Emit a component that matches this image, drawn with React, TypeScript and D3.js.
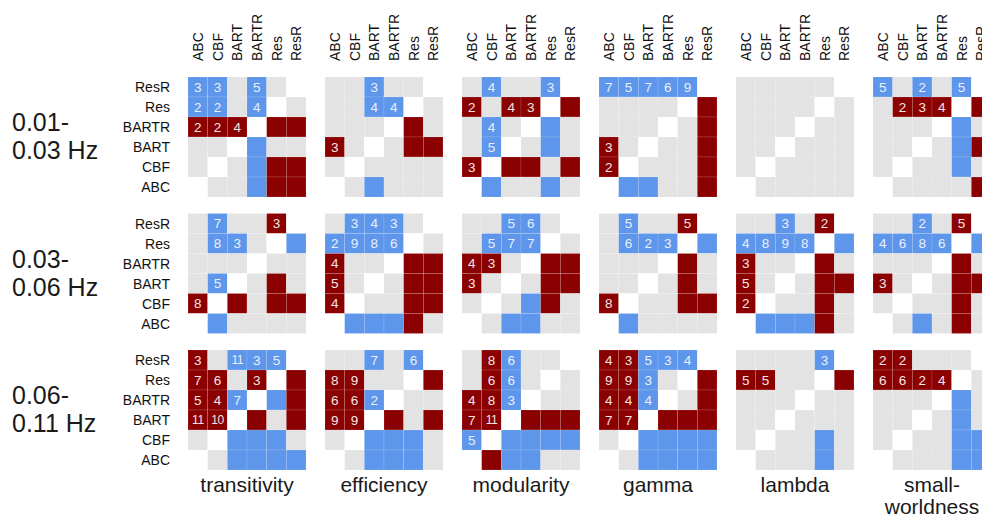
import React from "react";
import * as d3 from "d3";

// Regions compared in each matrix (columns left→right, rows bottom→top)
const regions = ["ABC", "CBF", "BART", "BARTR", "Res", "ResR"];
const rowOrder = [...regions].reverse();

const metrics = ["transitivity", "efficiency", "modularity", "gamma", "lambda", "small-worldness"];
const metricLines = [["transitivity"], ["efficiency"], ["modularity"], ["gamma"], ["lambda"], ["small-", "worldness"]];

const bands = ["0.01-0.03 Hz", "0.03-0.06 Hz", "0.06-0.11 Hz"];
const bandLines = [["0.01-", "0.03 Hz"], ["0.03-", "0.06 Hz"], ["0.06-", "0.11 Hz"]];

// Cell codes, rows listed top (ResR) to bottom (ABC):
// "." no difference, "-" same region, "b"/"r" decrease/increase, digits = count
const band1 = [
  ["b3 b3 . b5 . -", "b2 b2 . b4 - .", "r2 r2 r4 - r r", ". . - b . .", ". - . b r r", "- . . b r r"],
  [". . b3 . . -", ". . b4 b4 - .", ". . . - r .", "r3 . - . r r", ". - . . . .", "- . b . . ."],
  [". b4 . . b3 -", "r2 . r4 r3 - r", ". b4 . - b .", ". b5 - . b .", "r3 - r r . r", "- b . . b ."],
  ["b7 b5 b7 b6 b9 -", ". . . . - r", ". . . - . r", "r3 . - . . r", "r2 - . . . r", "- b b . . r"],
  [". . . . . -", ". . . . - .", ". . . - . .", ". . - . . .", ". - . . . .", "- . . . . ."],
  ["b5 . b2 . b5 -", ". r2 r3 r4 - r", ". . . - b .", ". . - . b r", ". - . . b .", "- . . . . r"],
];

const band2 = [
  [". b7 . . r3 -", ". b8 b3 . - b", ". . . - . .", ". b5 - . r .", "r8 - r . r r", "- b . . . ."],
  [". b3 b4 b3 . -", "b2 b9 b8 b6 - .", "r4 . . - r r", "r5 . - . r r", "r4 - . . r r", "- b b b r ."],
  [". . b5 b6 . -", ". b5 b7 b7 - .", "r4 r3 . - r r", "r3 . - . r r", ". - . b r .", "- . b b . ."],
  [". b5 . . r5 -", ". b6 b2 b3 - b", ". . . - r .", ". . - . r .", "r8 - . . r r", "- b . . . ."],
  [". . b3 . r2 -", "b4 b8 b9 b8 - b", "r3 . . - r .", "r5 . - . r r", "r2 - . . r .", "- b b b r ."],
  [". . b2 . r5 -", "b4 b6 b8 b6 - b", ". . . - r .", "r3 . - . r r", ". - . . r .", "- . b . r ."],
];

const band3 = [
  ["r3 . b11 b3 b5 -", "r7 r6 . r3 - r", "r5 r4 b7 - b r", "r11 r10 - r . r", ". - b b b .", "- . b b b b"],
  [". . b7 . b6 -", "r8 r9 . . - r", "r6 r6 b2 - . .", "r9 r9 - r . r", ". - b b b .", "- . b b b ."],
  [". r8 b6 . . -", ". r6 b6 . - .", "r4 r8 b3 - . .", "r7 r11 - r r r", "b5 - b b b b", "- r b b . ."],
  ["r4 r3 b5 b3 b4 -", "r9 r9 b3 . - r", "r4 r4 b4 - . r", "r7 r7 - r r r", ". - b b b b", "- . b b b b"],
  [". . . . b3 -", "r5 r5 . . - r", ". . . - . .", ". . - . . .", ". - . . b .", "- . . . b ."],
  ["r2 r2 . . . -", "r6 r6 r2 r4 - .", ". . . - b .", ". . - . b .", ". - . . b b", "- . . . b b"],
];

const bandData = [band1, band2, band3];

const fills: Record<string, string> = {
  ".": "#e3e3e3",
  "-": "#ffffff",
  b: "#5d96ea",
  r: "#8b0000",
};

const font = "'Liberation Sans', Arial, Helvetica, sans-serif";

type Cell = { band: number; metric: number; row: string; col: string; kind: string; n: string };

function parse(): Cell[] {
  const cells: Cell[] = [];
  bandData.forEach((band, bi) =>
    band.forEach((rows, mi) =>
      rows.forEach((line, ri) =>
        line.split(" ").forEach((tok, ci) => {
          cells.push({
            band: bi,
            metric: mi,
            row: rowOrder[ri],
            col: regions[ci],
            kind: tok[0],
            n: tok.slice(1),
          });
        })
      )
    )
  );
  return cells;
}

export default function App() {
  const W = 982;
  const H = 519;

  const px = d3
    .scaleBand<number>()
    .domain(d3.range(metrics.length))
    .range([188, 991])
    .paddingInner(19 / 137)
    .paddingOuter(0);
  const py = d3
    .scaleBand<number>()
    .domain(d3.range(bands.length))
    .range([77, 470])
    .paddingInner(16.5 / 136.5)
    .paddingOuter(0);

  const cx = d3.scaleBand<string>().domain(regions).range([0, px.bandwidth()]);
  const cy = d3.scaleBand<string>().domain(rowOrder).range([0, py.bandwidth()]);

  const cells = parse();

  return (
    <svg
      width={W}
      height={H}
      viewBox={`0 0 ${W} ${H}`}
      style={{ position: "absolute", left: 0, top: 0, display: "block", background: "#fff" }}
      fontFamily={font}
    >
      {/* column headers above the first band */}
      {metrics.map((m, mi) =>
        regions.map((r) => {
          const x = (px(mi) ?? 0) + (cx(r) ?? 0) + cx.bandwidth() / 2;
          return (
            <text
              key={`h-${m}-${r}`}
              transform={`translate(${x},61) rotate(-90)`}
              dy="0.36em"
              fontSize={14}
              fill="#111"
            >
              {r}
            </text>
          );
        })
      )}

      {/* row labels and frequency-band labels */}
      {bands.map((b, bi) => {
        const y0 = py(bi) ?? 0;
        return (
          <g key={`rl-${b}`}>
            {rowOrder.map((r) => (
              <text
                key={r}
                x={170}
                y={y0 + (cy(r) ?? 0) + cy.bandwidth() / 2}
                dy="0.36em"
                textAnchor="end"
                fontSize={14}
                fill="#111"
              >
                {r}
              </text>
            ))}
            {bandLines[bi].map((t, li) => (
              <text key={t} x={12} y={y0 + py.bandwidth() / 2 - 6 + li * 28} fontSize={25} fill="#1a1a1a">
                {t}
              </text>
            ))}
          </g>
        );
      })}

      {/* matrix cells */}
      {cells.map((c, i) => {
        const x = (px(c.metric) ?? 0) + (cx(c.col) ?? 0);
        const y = (py(c.band) ?? 0) + (cy(c.row) ?? 0);
        return (
          <g key={i}>
            <rect
              x={x}
              y={y}
              width={cx.bandwidth()}
              height={cy.bandwidth()}
              fill={fills[c.kind]}
              stroke={c.kind === "-" ? "none" : "rgba(255,255,255,0.22)"}
              strokeWidth={0.6}
            />
            {c.n && (
              <text
                x={x + cx.bandwidth() / 2}
                y={y + cy.bandwidth() / 2}
                dy="0.36em"
                textAnchor="middle"
                fontSize={c.n.length > 1 ? 12 : 13.5}
                letterSpacing={c.n.length > 1 ? -0.5 : 0}
                fill={c.kind === "b" ? "#e9f0fc" : "#f3e6e6"}
              >
                {c.n}
              </text>
            )}
          </g>
        );
      })}

      {/* metric names below the last band */}
      {metricLines.map((lines, mi) => (
        <g key={`ml-${mi}`}>
          {lines.map((t, li) => (
            <text
              key={t}
              x={(px(mi) ?? 0) + px.bandwidth() / 2}
              y={492 + li * 22}
              textAnchor="middle"
              fontSize={21}
              fill="#1a1a1a"
            >
              {t}
            </text>
          ))}
        </g>
      ))}
    </svg>
  );
}
